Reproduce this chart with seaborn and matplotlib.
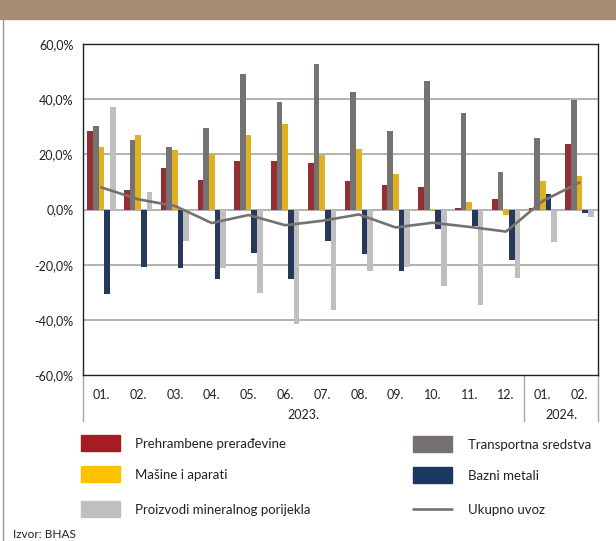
import pandas as pd
import numpy as np
import matplotlib.pyplot as plt
import seaborn as sns
from matplotlib.patches import Rectangle
from matplotlib.lines import Line2D
from matplotlib.ticker import FuncFormatter

sns.set_style("white")
plt.rcParams['font.family'] = ['Lato', 'DejaVu Sans']

# Podaci (godisnja stopa promjene uvoza, %)
periodi = ['2023-01', '2023-02', '2023-03', '2023-04', '2023-05', '2023-06', '2023-07',
           '2023-08', '2023-09', '2023-10', '2023-11', '2023-12', '2024-01', '2024-02']
mjeseci = ['01.', '02.', '03.', '04.', '05.', '06.', '07.', '08.', '09.', '10.', '11.', '12.', '01.', '02.']
godine = ['2023.', '2024.']

prehrambene = [28.5, 7.0, 15.2, 10.8, 17.7, 17.7, 17.0, 10.2, 8.9, 8.3, 0.5, 3.7, 0.4, 23.9]
transportna = [30.2, 25.2, 22.7, 29.6, 49.0, 39.0, 52.9, 42.7, 28.5, 46.5, 35.0, 13.5, 25.8, 39.8]
masine = [22.7, 27.1, 21.5, 20.2, 27.1, 31.0, 19.6, 21.9, 12.7, -0.5, 2.6, -2.1, 10.2, 12.3]
bazni = [-30.6, -20.7, -21.3, -25.1, -15.6, -25.1, -11.3, -16.3, -22.2, -7.0, -6.1, -18.3, 5.8, -1.2]
mineralni = [37.0, 6.4, -11.3, -21.3, -30.1, -41.4, -36.5, -22.2, -21.0, -27.8, -34.8, -24.7, -11.7, -2.7]
ukupno = [8.0, 3.7, 1.3, -4.9, -2.0, -5.7, -4.1, -1.8, -6.5, -4.8, -6.3, -8.0, 3.1, 9.8]

serije = {
    'Prehrambene prerađevine': prehrambene,
    'Transportna sredstva': transportna,
    'Mašine i aparati': masine,
    'Bazni metali': bazni,
    'Proizvodi mineralnog porijekla': mineralni,
}
boje = {
    'Prehrambene prerađevine': '#A51D24',
    'Transportna sredstva': '#767171',
    'Mašine i aparati': '#FFC000',
    'Bazni metali': '#1D3763',
    'Proizvodi mineralnog porijekla': '#BFBFBF',
}
boja_linije = '#767171'

df = pd.DataFrame([
    {'Period': p, 'Kategorija': k, 'Vrijednost': v}
    for k, vals in serije.items() for p, v in zip(periodi, vals)
])
df_uk = pd.DataFrame({'Period': periodi, 'Ukupno': ukupno})

fig = plt.figure(figsize=(6.16, 5.41), dpi=100)
ax = fig.add_axes([83 / 616, 166 / 541, 515 / 616, 331 / 541])

# Grid
for y in [-40, -20, 0, 20, 40]:
    ax.axhline(y, color='#A6A6A6', linewidth=1.2, zorder=0)

sns.barplot(data=df, x='Period', y='Vrijednost', hue='Kategorija', order=periodi,
            hue_order=list(serije.keys()), palette=boje, width=0.77, dodge=True,
            errorbar=None, legend=False, linewidth=0, edgecolor='none', ax=ax, zorder=2)

sns.pointplot(data=df_uk, x='Period', y='Ukupno', order=periodi, color=boja_linije,
              markers='', errorbar=None, linewidth=1.9, ax=ax, zorder=3)

ax.set_xlim(-0.5, len(periodi) - 0.5)
ax.set_ylim(-60, 60)
ax.set_yticks([-60, -40, -20, 0, 20, 40, 60])
ax.yaxis.set_major_formatter(FuncFormatter(lambda v, p: f'{v:.1f}%'.replace('.', ',')))
ax.set_xticks(range(len(periodi)))
ax.set_xticklabels(mjeseci)
ax.tick_params(axis='y', length=0, pad=7, labelsize=9, colors='#222222')
ax.tick_params(axis='x', length=0, pad=10, labelsize=9, colors='#222222')
ax.set_xlabel('')
ax.set_ylabel('')
for s in ax.spines.values():
    s.set_color('#222222')
    s.set_linewidth(1.0)

# Godine i razdjelnici na x osi
trans = ax.get_xaxis_transform()
for xv in [-0.5, 11.5, 13.5]:
    ax.plot([xv, xv], [0, -0.138], transform=trans, color='#A6A6A6', linewidth=1, clip_on=False)
ax.text(5.5, -0.12, godine[0], transform=trans, ha='center', va='center', fontsize=9, color='#222222')
ax.text(12.5, -0.12, godine[1], transform=trans, ha='center', va='center', fontsize=9, color='#222222')

# Zaglavlje i okvir
fig.add_artist(Rectangle((0, 1 - 19 / 541), 1, 19 / 541, transform=fig.transFigure,
                         color='#A58D72', zorder=0))
fig.add_artist(Line2D([3 / 616, 3 / 616], [0, 1 - 19 / 541], transform=fig.transFigure,
                      color='#9A9A9A', linewidth=1))

# Legenda
def fy(py):
    return 1 - py / 541

stavke = [
    ('Prehrambene prerađevine', 81, 135, 443, 'patch'),
    ('Mašine i aparati', 81, 135, 474, 'patch'),
    ('Proizvodi mineralnog porijekla', 81, 135, 509, 'patch'),
    ('Transportna sredstva', 413, 468, 444, 'patch'),
    ('Bazni metali', 413, 468, 475, 'patch'),
    ('Ukupno uvoz', 413, 468, 509, 'line'),
]
for naziv, px, tx, py, tip in stavke:
    if tip == 'patch':
        fig.add_artist(Rectangle((px / 616, fy(py + 8)), 39 / 616, 16 / 541,
                                 transform=fig.transFigure, color=boje[naziv]))
    else:
        fig.add_artist(Line2D([px / 616, (px + 39) / 616], [fy(py), fy(py)],
                              transform=fig.transFigure, color=boja_linije, linewidth=1.9))
    fig.text(tx / 616, fy(py + 1), naziv, ha='left', va='center', fontsize=9.5, color='#222222')

fig.text(13 / 616, fy(535), 'Izvor: BHAS', ha='left', va='center', fontsize=8.5, color='#222222')

plt.savefig('out.png', dpi=100)
plt.close()
